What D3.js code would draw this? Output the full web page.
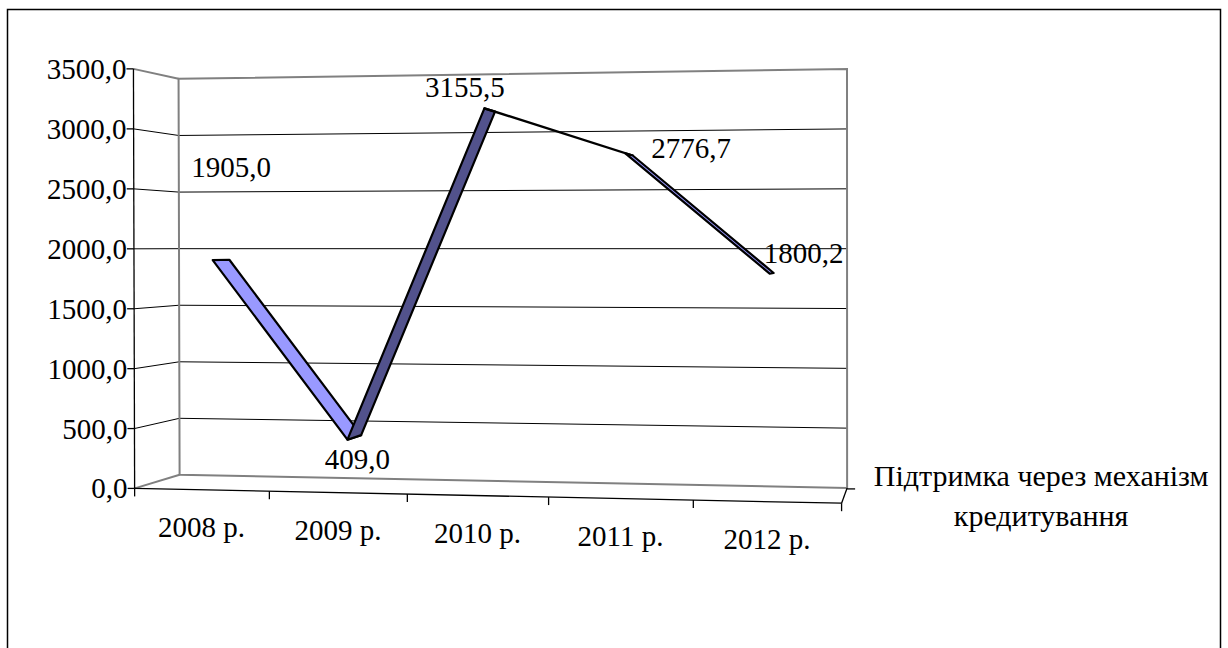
<!DOCTYPE html>
<html>
<head>
<meta charset="utf-8">
<script src="https://cdn.jsdelivr.net/npm/d3@7"></script>
<style>
  html, body { margin: 0; padding: 0; background: #fff; }
  svg { display: block; }
  text { font-family: "Liberation Serif", "Times New Roman", serif; font-size: 29px; fill: #000; }
  text.series { font-size: 30px; }
</style>
</head>
<body>
<svg id="chart" width="1228" height="648"></svg>
<script>
// ---- data ----
const categories = ["2008 р.", "2009 р.", "2010 р.", "2011 р.", "2012 р."];
const values = [1905.0, 409.0, 3155.5, 2776.7, 1800.2];
const seriesName = ["Підтримка через механізм", "кредитування"];
const yTicks = [0, 500, 1000, 1500, 2000, 2500, 3000, 3500];

// ---- layout ----
// Screen positions of reference points of the unit plot box
// (X = category axis, Y = value axis, Z = depth; 0 = front, 1 = back).
const boxAnchors = [
  [[0, 0, 0], [135, 488]],
  [[0, 1, 0], [133, 69]],
  [[0, 6 / 7, 0], [133.3, 129]],
  [[0, 0, 1], [179, 475]],
  [[0, 1, 1], [179, 79]],
  [[0, 6 / 7, 1], [179, 135]],
  [[1, 0, 1], [847, 488]],
  [[1, 1, 1], [847, 69]],
  [[1, 6 / 7, 1], [847, 129]],
  [[1, 0, 0], [842, 503]],
  [[0.2, 0, 0], [270, 491.5]],
  [[0.4, 0, 0], [407, 494.3]],
  [[0.8, 0, 0], [693, 500]]
];
const ribbonDepth = [0.27, 0.67];          // front / back edge of the 3D line
const labelOffsets = [[10, -83], [3, 32], [-25, -13], [62, 4], [32, -10]];
const colors = { top: "#9999ff", under: "#52528c", wall: "#808080", grid: "#000" };

// Fit a 3x4 projective camera to the anchors (least squares, normalised pixels)
function fitCamera(anchors) {
  const n = 11, k = 1000;
  const M = Array.from({ length: n }, () => new Array(n).fill(0));
  const r = new Array(n).fill(0);
  anchors.forEach(([[X, Y, Z], [px, py]]) => {
    const x = px / k, y = py / k;
    [[[X, Y, Z, 1, 0, 0, 0, 0, -x * X, -x * Y, -x * Z], x],
     [[0, 0, 0, 0, X, Y, Z, 1, -y * X, -y * Y, -y * Z], y]].forEach(([a, b]) => {
      for (let i = 0; i < n; i++) {
        r[i] += a[i] * b;
        for (let j = 0; j < n; j++) M[i][j] += a[i] * a[j];
      }
    });
  });
  for (let c = 0; c < n; c++) {
    let p = c;
    for (let i = c + 1; i < n; i++) if (Math.abs(M[i][c]) > Math.abs(M[p][c])) p = i;
    [M[c], M[p]] = [M[p], M[c]];
    [r[c], r[p]] = [r[p], r[c]];
    for (let i = c + 1; i < n; i++) {
      const f = M[i][c] / M[c][c];
      for (let j = c; j < n; j++) M[i][j] -= f * M[c][j];
      r[i] -= f * r[c];
    }
  }
  const p = new Array(n).fill(0);
  for (let i = n - 1; i >= 0; i--) {
    let s = r[i];
    for (let j = i + 1; j < n; j++) s -= M[i][j] * p[j];
    p[i] = s / M[i][i];
  }
  return ([X, Y, Z]) => {
    const w = p[8] * X + p[9] * Y + p[10] * Z + 1;
    return [k * (p[0] * X + p[1] * Y + p[2] * Z + p[3]) / w,
            k * (p[4] * X + p[5] * Y + p[6] * Z + p[7]) / w];
  };
}
const project = fitCamera(boxAnchors);

// ---- scales ----
const xPoint = d3.scalePoint().domain(categories).range([0, 1]).padding(0.5);
const xEdge = d3.scaleLinear().domain([0, categories.length]).range([0, 1]);
const yScale = d3.scaleLinear().domain([0, 3500]).range([0, 1]);
const fmt = v => d3.format(".1f")(v).replace(".", ",");

const svg = d3.select("#chart");
const line2 = (a, b) => d3.line()([project(a), project(b)]);
const polygon = pts => "M" + pts.map(p => project(p).join(",")).join("L") + "Z";

// outer frame
svg.append("rect").attr("x", 7.5).attr("y", 9.5).attr("width", 1213).attr("height", 660)
  .attr("fill", "none").attr("stroke", "#000").attr("stroke-width", 1.5);

const walls = svg.append("g");
// gridlines on the side wall and the back wall
yTicks.filter(t => t > 0 && t < 3500).forEach(t => {
  const y = yScale(t);
  walls.append("path").attr("d", line2([0, y, 0], [0, y, 1]))
    .attr("stroke", colors.grid).attr("stroke-width", 1).attr("fill", "none");
  walls.append("path").attr("d", line2([0, y, 1], [1, y, 1]))
    .attr("stroke", colors.grid).attr("stroke-width", 1).attr("fill", "none");
});
// wall outlines
walls.append("path").attr("d", polygon([[0, 0, 1], [0, 1, 1], [1, 1, 1], [1, 0, 1]]))
  .attr("fill", "none").attr("stroke", colors.wall).attr("stroke-width", 2);
walls.append("path").attr("d", line2([0, 1, 0], [0, 1, 1]))
  .attr("stroke", colors.wall).attr("stroke-width", 2).attr("fill", "none");
walls.append("path").attr("d", line2([0, 0, 0], [0, 0, 1]))
  .attr("stroke", colors.wall).attr("stroke-width", 2).attr("fill", "none");

// axes
const axes = svg.append("g").attr("stroke", "#000").attr("stroke-width", 1.3).attr("fill", "none");
axes.append("path").attr("d", line2([0, 0, 0], [0, 1, 0]));
axes.append("path").attr("d", line2([0, 0, 0], [1, 0, 0]));
axes.append("path").attr("d", line2([1, 0, 0], [1, 0, 1]));
yTicks.forEach(t => {
  const [x, y] = project([0, yScale(t), 0]);
  axes.append("path").attr("d", d3.line()([[x - 7, y], [x, y]]));
});
d3.range(categories.length + 1).forEach(i => {
  const [x, y] = project([xEdge(i), 0, 0]);
  axes.append("path").attr("d", d3.line()([[x, y], [x, y + 8]]));
});
const depthEnd = project([1, 0, 1]);
axes.append("path").attr("d", d3.line()([[depthEnd[0], depthEnd[1] + 1], [depthEnd[0] + 8, depthEnd[1] + 1]]));

// value axis labels
yTicks.forEach(t => {
  const [x, y] = project([0, yScale(t), 0]);
  svg.append("text").attr("x", x - 7).attr("y", y + 10).attr("text-anchor", "end").text(fmt(t));
});
// category labels
categories.forEach(c => {
  const [x, y] = project([xPoint(c), 0, 0]);
  svg.append("text").attr("x", x).attr("y", y + 47).attr("text-anchor", "middle").text(c);
});
// series name on the depth axis
seriesName.forEach((s, i) => {
  svg.append("text").attr("class", "series")
    .attr("x", depthEnd[0] + 194).attr("y", depthEnd[1] - 2 + i * 40)
    .attr("text-anchor", "middle").text(s);
});

// ---- 3D line ribbon ----
const shoelace = pts => {
  let a = 0;
  pts.forEach((p, i) => { const q = pts[(i + 1) % pts.length]; a += p[0] * q[1] - q[0] * p[1]; });
  return a;
};
const floorSign = Math.sign(shoelace([[0, 0, 0], [1, 0, 0], [1, 0, 1], [0, 0, 1]].map(project)));
const [z0, z1] = ribbonDepth;
const pts = categories.map((c, i) => [xPoint(c), yScale(values[i])]);
const ribbon = svg.append("g");
d3.pairs(pts).forEach(([p, q]) => {
  const quad = [[p[0], p[1], z0], [q[0], q[1], z0], [q[0], q[1], z1], [p[0], p[1], z1]];
  const seeTop = Math.sign(shoelace(quad.map(project))) === floorSign;
  ribbon.append("path").attr("d", polygon(quad))
    .attr("fill", seeTop ? colors.top : colors.under)
    .attr("stroke", "#000").attr("stroke-width", 2.2).attr("stroke-linejoin", "round");
});

// data labels
categories.forEach((c, i) => {
  const [x, y] = project([xPoint(c), yScale(values[i]), (z0 + z1) / 2]);
  svg.append("text").attr("x", x + labelOffsets[i][0]).attr("y", y + labelOffsets[i][1])
    .attr("text-anchor", "middle").text(fmt(values[i]));
});
</script>
</body>
</html>
